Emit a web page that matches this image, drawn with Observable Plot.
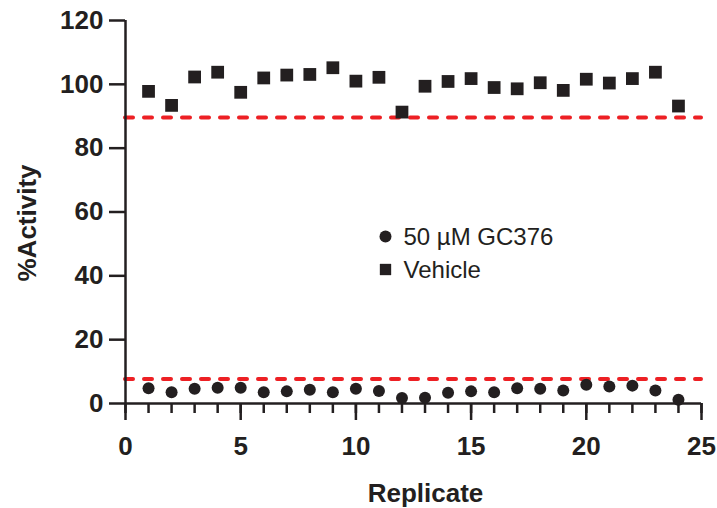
<!DOCTYPE html>
<html><head><meta charset="utf-8">
<script src="https://cdn.jsdelivr.net/npm/d3@7"></script>
<script src="https://cdn.jsdelivr.net/npm/@observablehq/plot@0.6"></script>
<style>body{margin:0;background:#fff}</style>
</head><body><div id="chart"></div>
<script>
const replicates = [1,2,3,4,5,6,7,8,9,10,11,12,13,14,15,16,17,18,19,20,21,22,23,24];
const gc376 = [4.8,3.5,4.6,4.9,4.9,3.5,3.8,4.3,3.5,4.6,3.9,1.7,1.8,3.4,3.8,3.5,4.8,4.6,4.1,5.9,5.3,5.6,4.1,1.2];
const vehicle = [97.8,93.4,102.3,103.8,97.5,102,102.9,103.1,105.2,101,102.2,91.3,99.4,100.9,101.8,99,98.6,100.5,98.1,101.6,100.4,101.8,103.8,93.2];
const thresholds = [89.6, 7.7];
const yTicks = [0,20,40,60,80,100,120];
const xMajor = [0,5,10,15,20,25];
const xMinor = [0,1,2,3,4,5,6,7,8,9,10,11,12,13,14,15,16,17,18,19,20,21,22,23,24,25];
const legendLabels = ["50 µM GC376", "Vehicle"];

const ink = "#231f20";
const red = "#ed2024";
const font = "'Liberation Sans', Arial, Helvetica, sans-serif";

const gcData = replicates.map((r, i) => ({x: r, y: gc376[i]}));
const vData = replicates.map((r, i) => ({x: r, y: vehicle[i]}));

const chart = Plot.plot({
  width: 717,
  height: 508,
  marginLeft: 125,
  marginRight: 16,
  marginTop: 20,
  marginBottom: 105,
  style: {fontFamily: font, background: "#fff", color: ink, overflow: "visible"},
  x: {domain: [0, 25]},
  y: {domain: [0, 120]},
  marks: [
    Plot.ruleY(thresholds, {stroke: red, strokeWidth: 4, strokeDasharray: "8 11", strokeLinecap: "round"}),
    Plot.axisY({ticks: yTicks, tickSize: 16, tickPadding: 6, strokeWidth: 2.5, stroke: ink, fill: ink, fontSize: 26, fontWeight: "bold", label: null}),
    Plot.axisX({ticks: xMinor, tickSize: 10, strokeWidth: 2.5, stroke: ink, tickFormat: () => "", label: null}),
    Plot.axisX({ticks: xMajor, tickSize: 17, tickPadding: 16, strokeWidth: 2.5, stroke: ink, fill: ink, fontSize: 26, fontWeight: "bold", label: null}),
    Plot.ruleX([0], {stroke: ink, strokeWidth: 2.5}),
    Plot.ruleY([0], {stroke: ink, strokeWidth: 2.5}),
    Plot.dot(vData, {x: "x", y: "y", symbol: "square", r: 7.2, fill: ink, stroke: null}),
    Plot.dot(gcData, {x: "x", y: "y", symbol: "circle", r: 6, fill: ink, stroke: null}),
    // legend
    Plot.dot([legendLabels[0]], {frameAnchor: "top-left", dx: 260, dy: 216, r: 6, fill: ink, symbol: "circle"}),
    Plot.dot([legendLabels[1]], {frameAnchor: "top-left", dx: 260, dy: 249, r: 6.4, fill: ink, symbol: "square"}),
    Plot.text([legendLabels[0]], {text: d => d, frameAnchor: "top-left", dx: 278, dy: 217, textAnchor: "start", lineAnchor: "middle", fontSize: 24, fill: ink}),
    Plot.text([legendLabels[1]], {text: d => d, frameAnchor: "top-left", dx: 278, dy: 250, textAnchor: "start", lineAnchor: "middle", fontSize: 24, fill: ink}),
    // axis titles
    Plot.text(["%Activity"], {text: d => d, frameAnchor: "left", dx: -98, dy: 11, rotate: -90, textAnchor: "middle", lineAnchor: "middle", fontSize: 26, fontWeight: "bold", fill: ink}),
    Plot.text(["Replicate"], {text: d => d, frameAnchor: "bottom", dx: 12, dy: 90, textAnchor: "middle", lineAnchor: "middle", fontSize: 26, fontWeight: "bold", fill: ink})
  ]
});
document.getElementById("chart").append(chart);
</script>
</body></html>
